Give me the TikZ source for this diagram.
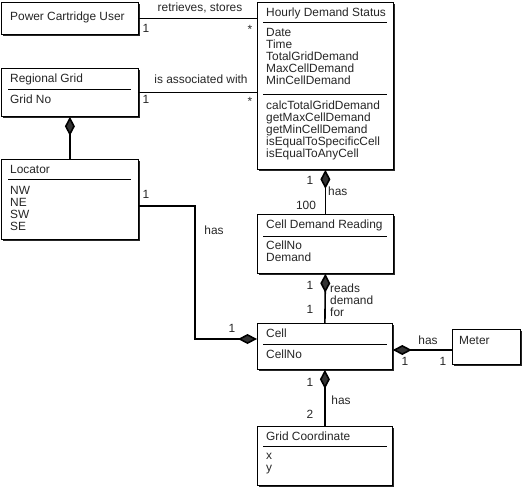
\documentclass[tikz,border=0pt]{standalone}
\usepackage{fontspec}
\setmainfont{Liberation Sans}
\usetikzlibrary{shadows,arrows.meta,calc}
\newcommand{\fs}{\fontsize{11.9}{12}\selectfont}
\begin{document}
\begin{tikzpicture}[x=1pt,y=-1pt,
  box/.style={draw, line width=0.8pt, fill=white, anchor=north west, inner sep=0pt,
    drop shadow={shadow xshift=2pt, shadow yshift=-2pt, fill=black!85, opacity=1}},
  txt/.style={anchor=mid west, inner sep=0pt, font=\fs, align=left, text=black!85},
  lbl/.style={anchor=mid, inner sep=0pt, font=\fs, text=black!85},
  sep/.style={line width=0.6pt},
  conn/.style={line width=1.6pt},
  comp/.style={conn, {Diamond[length=19pt,width=10pt,fill=black!80]}-},
]
\useasboundingbox (0,0) rectangle (524,488);
% boxes
\node[box, minimum width=137pt, minimum height=32pt] (pcu) at (1,2) {};
\node[box, minimum width=137pt, minimum height=48pt] (rg) at (1,68) {};
\node[box, minimum width=137pt, minimum height=80pt] (loc) at (1,159) {};
\node[box, minimum width=136pt, minimum height=167pt] (hds) at (257,2) {};
\node[box, minimum width=136pt, minimum height=59pt] (cdr) at (257,214) {};
\node[box, minimum width=135pt, minimum height=46pt] (cell) at (257,323) {};
\node[box, minimum width=68pt, minimum height=35pt] (meter) at (452,329) {};
\node[box, minimum width=135pt, minimum height=59pt] (gc) at (257,426) {};
% separators
\draw[sep] (8,89) -- (131,89);
\draw[sep] (8,179) -- (131,179);
\draw[sep] (263,22) -- (387,22);
\draw[sep] (263,94) -- (387,94);
\draw[sep] (263,236) -- (387,236);
\draw[sep] (263,344) -- (387,344);
\draw[sep] (263,446) -- (387,446);
% texts
\node[txt] (tpcu) at (10,18) {Power Cartridge User};
\node[txt] (trg) at (10,80) {Regional Grid};
\node[txt] (trga) at (10,101) {Grid No};
\node[txt] (tloc) at (10,171) {Locator};
\node[txt, anchor=north west] (tloca) at (10,186) {NW\\NE\\SW\\SE};
\node[txt] (thds) at (266,14) {Hourly Demand Status};
\node[txt, anchor=north west] (thdsa) at (266,28) {Date\\Time\\TotalGridDemand\\MaxCellDemand\\MinCellDemand};
\node[txt, anchor=north west] (thdso) at (266,101) {calcTotalGridDemand\\getMaxCellDemand\\getMinCellDemand\\isEqualToSpecificCell\\isEqualToAnyCell};
\node[txt] (tcdr) at (266,226) {Cell Demand Reading};
\node[txt, anchor=north west] (tcdra) at (266,241) {CellNo\\Demand};
\node[txt] (tcell) at (266,335) {Cell};
\node[txt] (tcella) at (266,356) {CellNo};
\node[txt] (tmeter) at (459,342) {Meter};
\node[txt] (tgc) at (266,438) {Grid Coordinate};
\node[txt, anchor=north west] (tgca) at (266,453) {x\\y};
% connectors
\coordinate (l1) at ($(loc.north east)+(0,47)$);
\coordinate (c1) at ($(cell.north west)+(0,16)$);
\coordinate (c2) at ($(cell.north east)+(0,27)$);
\draw[conn] (pcu.east) -- (pcu.east -| hds.west);
\draw[conn] (rg.east) -- (rg.east -| hds.west);
\draw[comp] (rg.south) -- (loc.north);
\draw[comp] (hds.south) -- (cdr.north);
\draw[comp] (cdr.south) -- (cell.north);
\draw[comp] (cell.south) -- (gc.north);
\draw[comp] (c2) -- (c2 -| meter.west);
\draw[conn, -{Diamond[length=19pt,width=10pt,fill=black!80]}] (l1) -| ($(c1)+(-62,0)$) -- (c1);
% labels
\node[lbl] (a1) at (200,9) {retrieves, stores};
\node[lbl] (a2) at (146,30) {1};
\node[lbl] (a3) at (250,31) {*};
\node[lbl] (b1) at (201,81) {is associated with};
\node[lbl] (b2) at (146,101) {1};
\node[lbl] (b3) at (250,103) {*};
\node[lbl] (d1) at (310,182) {1};
\node[lbl, anchor=mid west] (d2) at (328,193) {has};
\node[lbl] (d3) at (306,207) {100};
\node[lbl] (e1) at (310,287) {1};
\node[txt, anchor=north west] (e2) at (330,284) {reads\\demand\\for};
\node[lbl] (e3) at (310,311) {1};
\node[lbl] (f1) at (146,196) {1};
\node[lbl] (f2) at (214,232) {has};
\node[lbl] (f3) at (232,330) {1};
\node[lbl] (g1) at (428,342) {has};
\node[lbl] (g2) at (405,363) {1};
\node[lbl] (g3) at (443,363) {1};
\node[lbl] (h1) at (310,384) {1};
\node[lbl] (h2) at (341,402) {has};
\node[lbl] (h3) at (310,416) {2};
\end{tikzpicture}
\end{document}
